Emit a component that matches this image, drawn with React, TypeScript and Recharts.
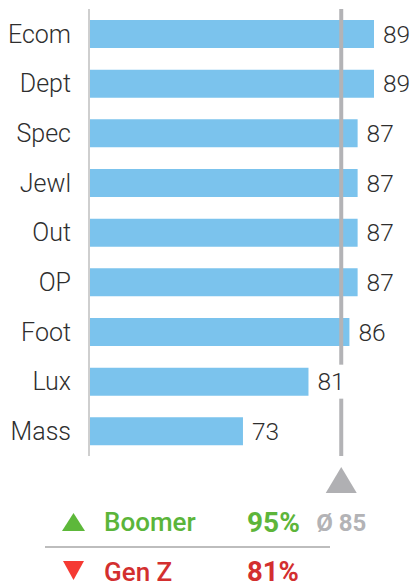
import React from 'react';
import { BarChart, Bar, XAxis, YAxis, ReferenceLine, LabelList } from 'recharts';

const categories = ['Ecom', 'Dept', 'Spec', 'Jewl', 'Out', 'OP', 'Foot', 'Lux', 'Mass'];
const values = [89, 89, 87, 87, 87, 87, 86, 81, 73];
const average = 85;
const legendNames = ['Boomer', 'Gen Z'];
const legendValues = [95, 81];

const data = categories.map((name, i) => ({ name, value: values[i] }));

const FONT = 'Roboto, "Noto Sans", sans-serif';

const ValueLabel = (props: any) => {
  const { x, y, width, height, value } = props;
  const tx = x + width + 9;
  const cy = y + height / 2;
  const tw = String(value).length * 13.5;
  return (
    <g>
      <rect x={tx - 4} y={cy - 17} width={tw + 8} height={34} fill="#ffffff" />
      <text x={tx} y={cy} dy="0.36em" fontSize={24.5} fontWeight={300} fill="#2e2e2e" fontFamily={FONT}>
        {value}
      </text>
    </g>
  );
};

const AvgLabel = (props: any) => {
  const vb = props.viewBox || {};
  const cx = vb.x + (vb.width || 0) / 2;
  const bottom = vb.y + vb.height;
  const top = bottom + 11;
  return (
    <g>
      <polygon
        points={`${cx},${top} ${cx + 15.5},${top + 26} ${cx - 15.5},${top + 26}`}
        fill="#b0b0b3"
      />
      <text x={cx} y={bottom + 75} textAnchor="middle" fontSize={24} fontWeight={700} fill="#b3b3b6" fontFamily={FONT}>
        {`Ø ${average}`}
      </text>
    </g>
  );
};

export default function App() {
  return (
    <div style={{ position: 'absolute', left: 0, top: 0, width: 412, height: 587, background: '#fff' }}>
      <BarChart
        width={412}
        height={587}
        data={data}
        layout="vertical"
        margin={{ top: 9, right: 38, bottom: 131, left: 0 }}
      >
        <XAxis type="number" domain={[54.2, 89]} hide allowDataOverflow />
        <YAxis
          type="category"
          dataKey="name"
          width={89}
          tickLine={false}
          tickSize={0}
          tickMargin={18}
          axisLine={{ stroke: '#cfcfcf', strokeWidth: 2 }}
          tick={{ fontSize: 25, fontWeight: 300, fill: '#2e2e2e', fontFamily: FONT }}
          interval={0}
        />
        <Bar dataKey="value" fill="#7bc3ed" barSize={28} isAnimationActive={false}>
          <LabelList dataKey="value" content={<ValueLabel />} />
        </Bar>
        <ReferenceLine x={average} stroke="#b3b3b6" strokeWidth={4} label={<AvgLabel />} />
      </BarChart>
      <svg width={412} height={587} style={{ position: 'absolute', left: 0, top: 0, pointerEvents: 'none' }}>
        <polygon points="62,531 85,531 73.5,513" fill="#5db83a" />
        <text x={104} y={531} fontSize={26} fontWeight={500} fill="#5bb53a" fontFamily={FONT}>
          {legendNames[0]}
        </text>
        <text x={247} y={532} fontSize={28} fontWeight={700} fill="#5db53a" fontFamily={FONT}>
          {`${legendValues[0]}%`}
        </text>
        <line x1={45} x2={330} y1={547} y2={547} stroke="#bdbdbd" strokeWidth={2} />
        <polygon points="63,561 84,561 73.5,580" fill="#f53a33" />
        <text x={104} y={581} fontSize={26} fontWeight={500} fill="#d32f2f" fontFamily={FONT}>
          {legendNames[1]}
        </text>
        <text x={247} y={581} fontSize={27.5} fontWeight={700} fill="#d32f2f" fontFamily={FONT}>
          {`${legendValues[1]}%`}
        </text>
      </svg>
    </div>
  );
}
